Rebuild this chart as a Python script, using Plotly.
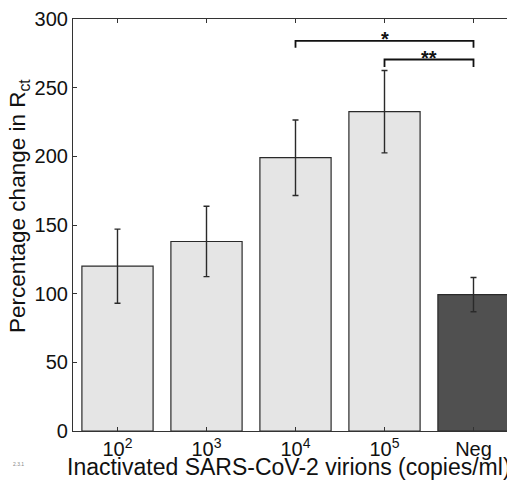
import plotly.graph_objects as go

categories = ["10<sup>2</sup>", "10<sup>3</sup>", "10<sup>4</sup>", "10<sup>5</sup>", "Neg"]
values = [120, 138, 199, 232.5, 99.3]
errors = [27, 25.6, 27.5, 30, 12.5]
bar_colors = ["#e5e5e5", "#e5e5e5", "#e5e5e5", "#e5e5e5", "#505050"]

# significance brackets: (start index, end index, height, label)
bracket_start = [3, 4]
bracket_end = [5, 5]
bracket_y = [284, 270.5]
bracket_drop = [5, 5.5]
bracket_labels = ["*", "**"]

x_title = "Inactivated SARS-CoV-2 virions (copies/ml)"
y_title = "Percentage change in R<sub>ct</sub>"
y_ticks = [0, 50, 100, 150, 200, 250, 300]

positions = list(range(1, len(categories) + 1))
font_family = "Liberation Sans, Arial, sans-serif"

fig = go.Figure()
fig.add_trace(go.Bar(
    x=positions, y=values, width=0.8,
    marker=dict(color=bar_colors, line=dict(color="#2a2a2a", width=1.2)),
    error_y=dict(type="data", array=errors, visible=True, color="#2a2a2a",
                 thickness=1.4, width=3),
    showlegend=False, hoverinfo="skip",
))

for s, e, y, d, lab in zip(bracket_start, bracket_end, bracket_y, bracket_drop, bracket_labels):
    fig.add_trace(go.Scatter(
        x=[s, s, e, e], y=[y - d, y, y, y - d], mode="lines",
        line=dict(color="#111111", width=1.8), showlegend=False, hoverinfo="skip",
    ))
    fig.add_annotation(x=(s + e) / 2, y=y, text="<b>" + lab + "</b>", showarrow=False,
                       yanchor="middle", yshift=2,
                       font=dict(size=20, color="#111111", family=font_family))

# invisible trace for right mirrored tick axis
fig.add_trace(go.Scatter(x=[1], y=[0], yaxis="y2", mode="markers",
                         marker=dict(opacity=0), showlegend=False, hoverinfo="skip"))

fig.update_layout(
    width=515, height=483,
    margin=dict(l=65, r=5, t=11, b=60),
    plot_bgcolor="white", paper_bgcolor="white",
    font=dict(family=font_family, color="#111111"),
    xaxis=dict(
        range=[0.5, 5.5], tickvals=positions, ticktext=categories,
        ticks="inside", ticklen=4, tickcolor="#333333", tickwidth=1,
        showline=True, linecolor="#333333", linewidth=1.2, mirror="ticks",
        showgrid=False, zeroline=False, automargin=False,
        tickfont=dict(size=20, family=font_family, color="#111111"),
    ),
    yaxis=dict(
        range=[0, 300], tickvals=y_ticks,
        ticks="inside", ticklen=4, tickcolor="#333333", tickwidth=1,
        showline=True, linecolor="#333333", linewidth=1.2,
        showgrid=False, zeroline=False, automargin=False,
        tickfont=dict(size=20, family=font_family, color="#111111"),
    ),
    yaxis2=dict(
        range=[0, 300], tickvals=y_ticks,
        overlaying="y", side="right", ticks="inside", ticklen=4,
        tickcolor="#333333", showticklabels=False, showline=False,
        showgrid=False, zeroline=False, automargin=False,
    ),
)

# axis titles as annotations (positioned like the reference)
fig.add_annotation(x=0.4843, y=-0.0874, xref="paper", yref="paper", text=x_title,
                   showarrow=False, xanchor="center", yanchor="middle",
                   font=dict(size=23, family=font_family, color="#111111"))
fig.add_annotation(x=-0.1202, y=0.545, xref="paper", yref="paper", text=y_title,
                   showarrow=False, textangle=-90, xanchor="center", yanchor="middle",
                   font=dict(size=22.5, family=font_family, color="#111111"))
fig.add_annotation(x=-0.139, y=-0.080, xref="paper", yref="paper", text="2.3.1",
                   showarrow=False, xanchor="left", yanchor="middle",
                   font=dict(size=5, color="#888888", family=font_family))

fig.write_html("out.html")
